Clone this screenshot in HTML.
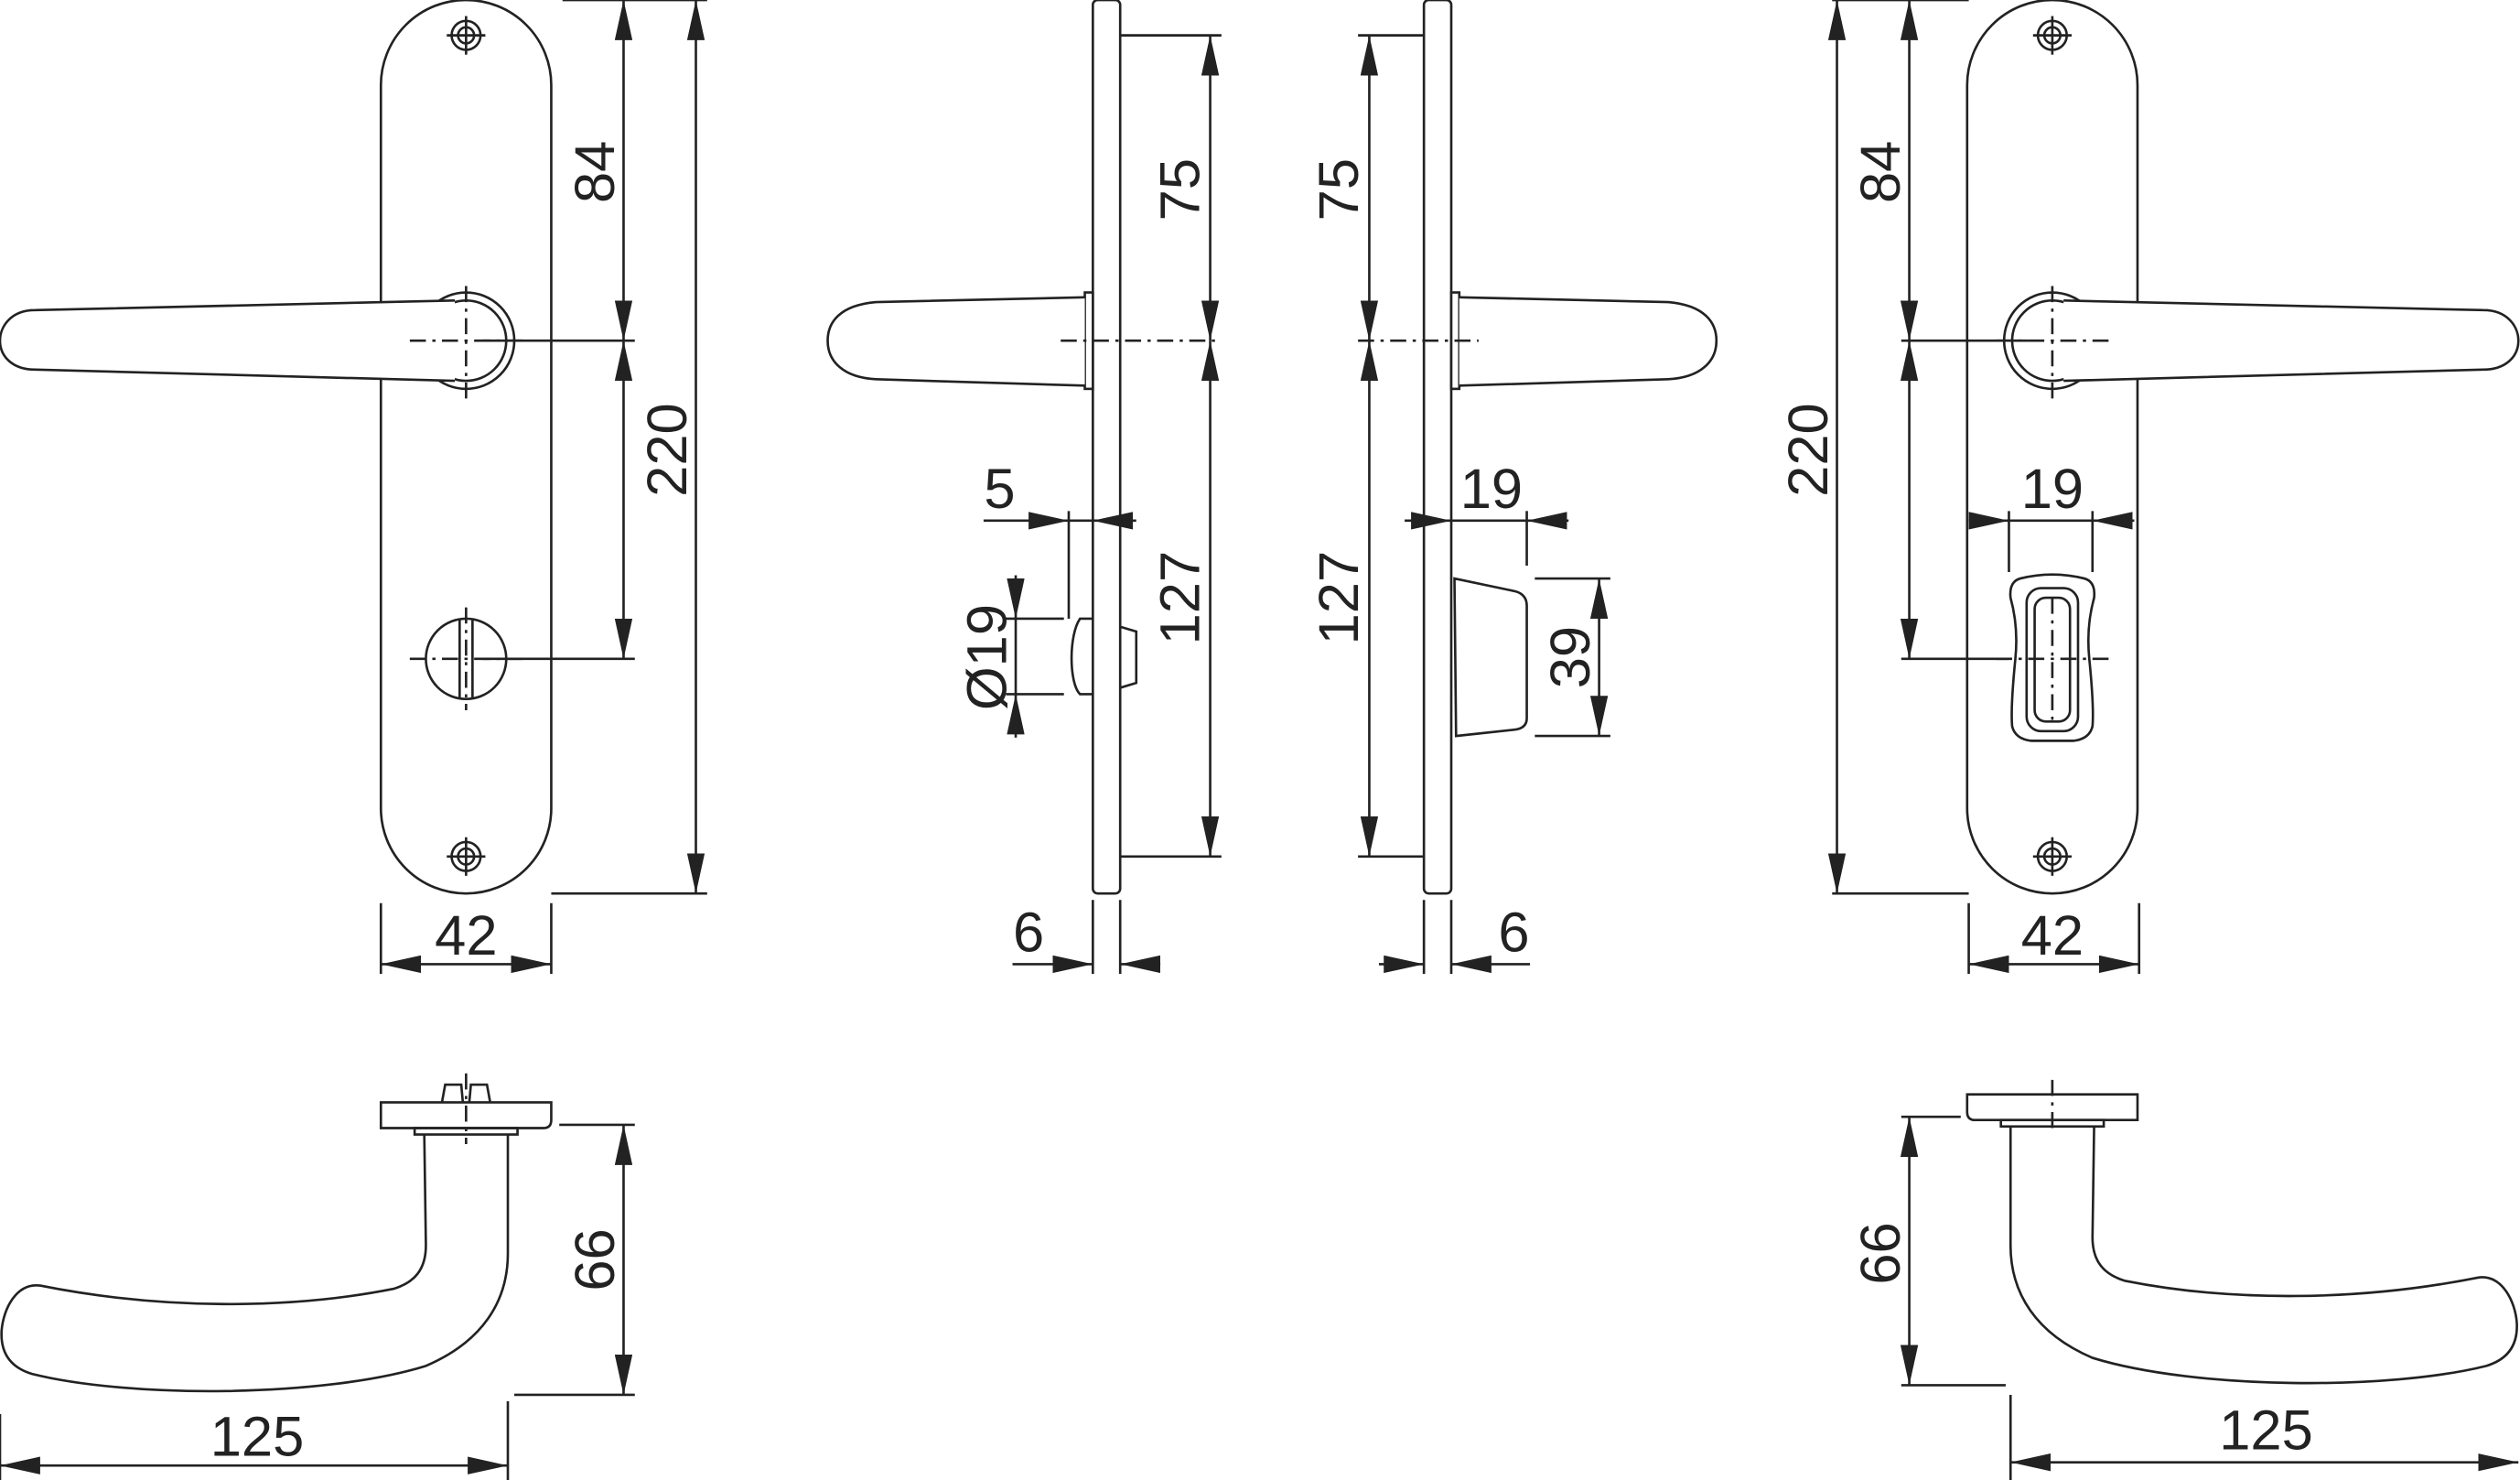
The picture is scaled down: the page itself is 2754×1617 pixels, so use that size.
<!DOCTYPE html>
<html><head><meta charset="utf-8"><style>
html,body{margin:0;padding:0;background:#fff}
svg{display:block}
text{font-family:"Liberation Sans",sans-serif;font-size:35px;fill:#222}
</style></head><body>
<svg width="2754" height="1617" viewBox="0 0 1568 921" preserveAspectRatio="none" xmlns="http://www.w3.org/2000/svg">
<defs>
<marker id="a" viewBox="0 0 25 11" refX="25" refY="5.5" markerWidth="25" markerHeight="11" markerUnits="userSpaceOnUse" orient="auto-start-reverse"><path d="M0,0L25,5.5L0,11z" fill="#222"/></marker>
<g id="screw"><circle r="9" fill="none"/><circle r="5" fill="none"/><line x1="-12" y1="0" x2="12" y2="0"/><line x1="0" y1="-12" x2="0" y2="12"/></g>
<g id="front">
<path d="M237,53 A53,53 0 0 1 343,53 L343,503 A53,53 0 0 1 237,503 Z" fill="#fff"/>
<use href="#screw" x="290" y="22"/><use href="#screw" x="290" y="533"/>
<circle cx="290" cy="212" r="30" fill="#fff"/><circle cx="290" cy="212" r="25" fill="none"/>
<path d="M283,187 L22,193 C6,193 0,204 0,212 C0,222 8,230 22,230 L283,237" fill="#fff"/>
<line x1="255" y1="212" x2="325" y2="212" stroke-dasharray="10,4,2,4"/>
<line x1="290" y1="178" x2="290" y2="248" stroke-dasharray="10,4,2,4"/>
</g>
<g id="side">
<rect x="680" y="0" width="17" height="556" rx="3" fill="#fff"/>
<rect x="675" y="182" width="5" height="60" fill="#fff"/>
<path d="M675,185 L545,188 C522,190 515,201 515,212 C515,225 525,235 545,236 L675,240" fill="#fff"/>
</g>
</defs>
<g stroke="#222" stroke-width="1.5" fill="none">
<use href="#front"/>
<circle cx="290" cy="410" r="25"/>
<line x1="286" y1="385" x2="286" y2="435"/><line x1="294" y1="385" x2="294" y2="435"/>
<line x1="255" y1="410" x2="325" y2="410" stroke-dasharray="10,4,2,4"/>
<line x1="290" y1="378" x2="290" y2="442" stroke-dasharray="10,4,2,4"/>
<line x1="350" y1="0" x2="440" y2="0"/><line x1="300" y1="212" x2="395" y2="212"/>
<line x1="300" y1="410" x2="395" y2="410"/><line x1="343" y1="556" x2="440" y2="556"/>
<line x1="388" y1="0" x2="388" y2="212" marker-start="url(#a)" marker-end="url(#a)"/>
<line x1="388" y1="212" x2="388" y2="410" marker-start="url(#a)" marker-end="url(#a)"/>
<line x1="433" y1="0" x2="433" y2="556" marker-start="url(#a)" marker-end="url(#a)"/>
<line x1="237" y1="562" x2="237" y2="606"/><line x1="343" y1="562" x2="343" y2="606"/>
<line x1="237" y1="600" x2="343" y2="600" marker-start="url(#a)" marker-end="url(#a)"/>
<use href="#side"/>
<path d="M680,385 L672,385 C665,395 665,425 672,432 L680,432"/>
<path d="M697,390 L707,393 L707,425 L697,428"/>
<line x1="697" y1="22" x2="760" y2="22"/><line x1="660" y1="212" x2="760" y2="212" stroke-dasharray="10,4,2,4"/>
<line x1="697" y1="533" x2="760" y2="533"/>
<line x1="753" y1="22" x2="753" y2="212" marker-start="url(#a)" marker-end="url(#a)"/>
<line x1="753" y1="212" x2="753" y2="533" marker-start="url(#a)" marker-end="url(#a)"/>
<line x1="665" y1="318" x2="665" y2="385"/>
<line x1="612" y1="324" x2="665" y2="324" marker-end="url(#a)"/>
<line x1="707" y1="324" x2="680" y2="324" marker-end="url(#a)"/>
<line x1="665" y1="324" x2="680" y2="324"/>
<line x1="626" y1="385" x2="662" y2="385"/><line x1="626" y1="432" x2="662" y2="432"/>
<line x1="632" y1="358" x2="632" y2="385" marker-end="url(#a)"/>
<line x1="632" y1="459" x2="632" y2="432" marker-end="url(#a)"/>
<line x1="632" y1="385" x2="632" y2="432"/>
<line x1="680" y1="560" x2="680" y2="606"/><line x1="697" y1="560" x2="697" y2="606"/>
<line x1="630" y1="600" x2="680" y2="600" marker-end="url(#a)"/>
<line x1="722" y1="600" x2="697" y2="600" marker-end="url(#a)"/>
<g transform="translate(1583,0) scale(-1,1)"><use href="#side"/></g>
<path d="M905,360 L943,368 Q950,370 950,377 L950,447 Q950,453 943,454 L906,458 Z" fill="#fff"/>
<line x1="845" y1="22" x2="886" y2="22"/><line x1="845" y1="212" x2="920" y2="212" stroke-dasharray="10,4,2,4"/>
<line x1="845" y1="533" x2="886" y2="533"/>
<line x1="852" y1="22" x2="852" y2="212" marker-start="url(#a)" marker-end="url(#a)"/>
<line x1="852" y1="212" x2="852" y2="533" marker-start="url(#a)" marker-end="url(#a)"/>
<line x1="950" y1="318" x2="950" y2="352"/>
<line x1="874" y1="324" x2="903" y2="324" marker-end="url(#a)"/>
<line x1="903" y1="324" x2="950" y2="324"/>
<line x1="976" y1="324" x2="950" y2="324" marker-end="url(#a)"/>
<line x1="955" y1="360" x2="1002" y2="360"/><line x1="955" y1="458" x2="1002" y2="458"/>
<line x1="995" y1="360" x2="995" y2="458" marker-start="url(#a)" marker-end="url(#a)"/>
<line x1="886" y1="560" x2="886" y2="606"/><line x1="903" y1="560" x2="903" y2="606"/>
<line x1="858" y1="600" x2="886" y2="600" marker-end="url(#a)"/>
<line x1="952" y1="600" x2="903" y2="600" marker-end="url(#a)"/>
<g transform="translate(1567,0) scale(-1,1)"><use href="#front"/></g>
<path d="M1257,360 Q1277,355 1297,360 Q1304,362 1303,372 Q1298,390 1300,410 Q1303,440 1302,452 Q1300,460 1290,461 L1264,461 Q1254,460 1252,452 Q1251,440 1254,410 Q1256,390 1251,372 Q1250,362 1257,360 Z" fill="#fff"/>
<rect x="1261" y="366" width="32" height="89" rx="9"/>
<rect x="1266" y="372" width="22" height="77" rx="7"/>
<line x1="1242" y1="410" x2="1312" y2="410" stroke-dasharray="10,4,2,4"/>
<line x1="1277" y1="372" x2="1277" y2="448" stroke-dasharray="10,4,2,4"/>
<line x1="1140" y1="0" x2="1225" y2="0"/><line x1="1183" y1="212" x2="1262" y2="212"/>
<line x1="1183" y1="410" x2="1250" y2="410"/><line x1="1140" y1="556" x2="1225" y2="556"/>
<line x1="1188" y1="0" x2="1188" y2="212" marker-start="url(#a)" marker-end="url(#a)"/>
<line x1="1188" y1="212" x2="1188" y2="410" marker-start="url(#a)" marker-end="url(#a)"/>
<line x1="1143" y1="0" x2="1143" y2="556" marker-start="url(#a)" marker-end="url(#a)"/>
<line x1="1250" y1="318" x2="1250" y2="356"/><line x1="1302" y1="318" x2="1302" y2="356"/>
<line x1="1225" y1="324" x2="1250" y2="324" marker-end="url(#a)"/>
<line x1="1250" y1="324" x2="1302" y2="324"/>
<line x1="1328" y1="324" x2="1302" y2="324" marker-end="url(#a)"/>
<line x1="1225" y1="562" x2="1225" y2="606"/><line x1="1331" y1="562" x2="1331" y2="606"/>
<line x1="1225" y1="600" x2="1331" y2="600" marker-start="url(#a)" marker-end="url(#a)"/>
<path d="M237,686 L343,686 L343,697 Q343,702 338,702 L237,702 Z"/>
<path d="M275,686 L277,675 L287,675 L288,686 M292,686 L293,675 L303,675 L305,686"/>
<rect x="258" y="702" width="64" height="4"/>
<line x1="290" y1="668" x2="290" y2="712" stroke-dasharray="10,4,2,4"/>
<path id="lev" d="M264,706 L265,775 C265,790 258,798 245,802 C180,815 100,815 25,800 C10,798 2,815 1,828 C0,845 10,852 20,855 C80,870 200,870 265,850 C300,835 316,810 316,780 L316,706"/>
<line x1="348" y1="700" x2="395" y2="700"/><line x1="320" y1="868" x2="395" y2="868"/>
<line x1="388" y1="700" x2="388" y2="868" marker-start="url(#a)" marker-end="url(#a)"/>
<line x1="316" y1="872" x2="316" y2="921"/><line x1="0" y1="880" x2="0" y2="921"/>
<line x1="0" y1="912" x2="316" y2="912" marker-start="url(#a)" marker-end="url(#a)"/>
<g transform="translate(1567,-5) scale(-1,1)">
<path d="M237,686 L343,686 L343,697 Q343,702 338,702 L237,702 Z"/>
<rect x="258" y="702" width="64" height="4"/>
<use href="#lev"/>
</g>
<line x1="1277" y1="672" x2="1277" y2="705" stroke-dasharray="10,4,2,4"/>
<line x1="1183" y1="695" x2="1220" y2="695"/><line x1="1183" y1="862" x2="1248" y2="862"/>
<line x1="1188" y1="695" x2="1188" y2="862" marker-start="url(#a)" marker-end="url(#a)"/>
<line x1="1251" y1="868" x2="1251" y2="921"/>
<line x1="1251" y1="910" x2="1567" y2="910" marker-start="url(#a)" marker-end="url(#a)"/>
</g>
<g>
<text transform="translate(382,107) rotate(-90)" text-anchor="middle">84</text>
<text transform="translate(427,280) rotate(-90)" text-anchor="middle">220</text>
<text x="290" y="594" text-anchor="middle">42</text>
<text transform="translate(746,118) rotate(-90)" text-anchor="middle">75</text>
<text transform="translate(746,372) rotate(-90)" text-anchor="middle">127</text>
<text x="622" y="316" text-anchor="middle">5</text>
<text transform="translate(626,409) rotate(-90)" text-anchor="middle">Ø19</text>
<text x="640" y="592" text-anchor="middle">6</text>
<text transform="translate(845,118) rotate(-90)" text-anchor="middle">75</text>
<text transform="translate(845,372) rotate(-90)" text-anchor="middle">127</text>
<text x="928" y="316" text-anchor="middle">19</text>
<text transform="translate(989,409) rotate(-90)" text-anchor="middle">39</text>
<text x="942" y="592" text-anchor="middle">6</text>
<text transform="translate(1182,107) rotate(-90)" text-anchor="middle">84</text>
<text transform="translate(1137,280) rotate(-90)" text-anchor="middle">220</text>
<text x="1277" y="316" text-anchor="middle">19</text>
<text x="1277" y="594" text-anchor="middle">42</text>
<text transform="translate(382,784) rotate(-90)" text-anchor="middle">66</text>
<text x="160" y="906" text-anchor="middle">125</text>
<text transform="translate(1182,780) rotate(-90)" text-anchor="middle">66</text>
<text x="1410" y="902" text-anchor="middle">125</text>
</g>
</svg>
</body></html>
